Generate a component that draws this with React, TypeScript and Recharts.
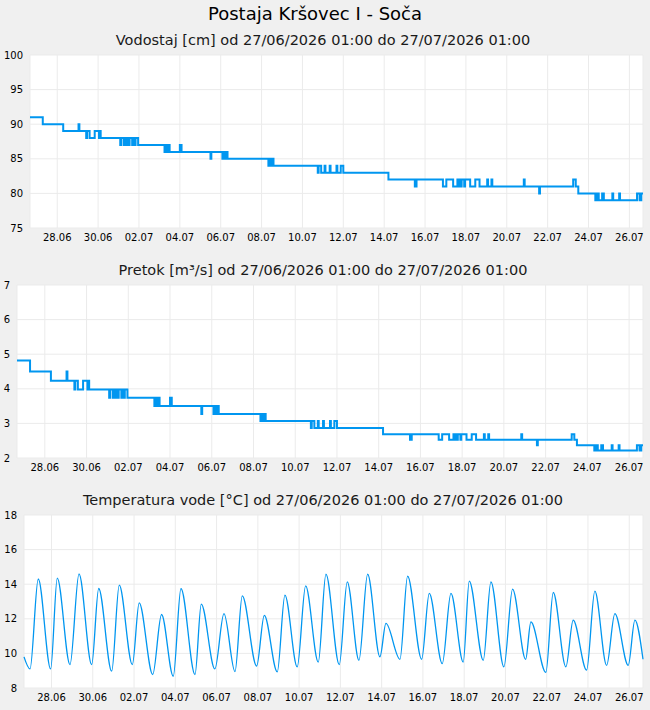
import React from 'react'
import { LineChart, Line, XAxis, YAxis, CartesianGrid } from 'recharts'

// ure od 27/06/2026 01:00
const dayTicks = [32, 80, 128, 176, 224, 272, 320, 368, 416, 464, 512, 560, 608, 656, 704]
const dayLabels = ['28.06', '30.06', '02.07', '04.07', '06.07', '08.07', '10.07', '12.07', '14.07', '16.07', '18.07', '20.07', '22.07', '24.07', '26.07']

// vodostaj [cm]: [ura, vrednost]
const vodostaj: [number, number][] = [
  [0, 91], [15, 90], [39, 89], [57, 90], [58, 89], [66, 88], [67, 89], [70, 88], [76, 89], [81, 88], [82, 89], [83, 88],
  [106, 87], [107, 88], [110, 87], [111, 88], [113, 87], [114, 88], [116, 87], [117, 88], [120, 87], [121, 88], [123, 87], [124, 88], [127, 87],
  [158, 86], [160, 87], [161, 86], [163, 87], [164, 86], [176, 87], [178, 86],
  [212, 85], [213, 86], [226, 85], [227, 86], [229, 85], [230, 86], [232, 85],
  [280, 84], [281, 85], [282, 84], [284, 85], [286, 84],
  [338, 83], [339, 84], [342, 83], [346, 84], [347, 83], [352, 84], [353, 83], [360, 84], [361, 83], [365, 84], [368, 83],
  [421, 82], [452, 81], [454, 82],
  [485, 81], [489, 82], [497, 81], [502, 82], [503, 81], [505, 82], [506, 81], [507, 82], [510, 81], [511, 82], [517, 81], [523, 82], [528, 81], [537, 82], [538, 81], [542, 82], [543, 81],
  [580, 82], [581, 81], [598, 80], [599, 81], [638, 82], [641, 81], [644, 80],
  [664, 79], [666, 80], [668, 79], [672, 80], [674, 79], [684, 80], [685, 79], [692, 80], [693, 79], [713, 80], [716, 79], [718, 80], [720, 80],
]

// pretok [m3/s] pri posameznem vodostaju
const ratingLevels = [79, 80, 81, 82, 83, 84, 85, 86, 87, 88, 89, 90, 91]
const ratingFlows = [2.22, 2.37, 2.53, 2.69, 2.87, 3.07, 3.27, 3.5, 3.74, 3.98, 4.23, 4.5, 4.82]

// temperatura vode [°C]: [ura, vrednost]
const temperatura: [number, number][] = [
  [0, 9.8], [7, 9.1], [16.6, 14.3], [31, 9.1], [38.7, 14.35], [53.5, 9.35], [64, 14.6], [78.7, 9.35], [86.9, 13.75],
  [102, 8.97], [110.8, 13.95], [126, 9.35], [134, 12.92], [149.7, 8.78], [160, 12.25], [173.6, 8.68], [182.6, 13.75],
  [198.9, 8.78], [206.2, 12.85], [222, 9.1], [232.6, 12.3], [245.4, 8.95], [253.9, 13.33], [270.6, 9.27], [279.5, 12.2],
  [294.6, 8.93], [303.5, 13.37], [317.8, 9.22], [327.6, 13.9], [342.3, 9.5], [351.2, 14.58], [366.7, 9.35], [376, 14.14],
  [389.6, 9.6], [399.7, 14.58], [414, 9.8], [421, 11.73], [437.3, 9.66], [446.2, 14.47], [462.5, 9.66], [471.4, 13.47],
  [486.5, 9.41], [496.6, 13.47], [510.9, 9.5], [517.9, 14.18], [534.2, 9.6], [543.1, 14.14], [558.2, 9.22], [568.3, 13.71],
  [583.5, 9.66], [589.6, 11.82], [607, 8.9], [615.6, 13.52], [630.3, 9.22], [638.8, 11.92], [654.4, 9.03], [664, 13.6],
  [677.7, 9.31], [687.3, 12.3], [702.8, 9.31], [710.6, 11.92], [720, 9.66],
]

const levelTicks = [75, 80, 85, 90, 95, 100]
const flowTicks = [2, 3, 4, 5, 6, 7]
const tempTicks = [8, 10, 12, 14, 16, 18]

const font = 'DejaVu Sans'
const lineColor = '#0096f0'

type PanelProps = {
  data: { h: number; v: number }[]
  top: number
  yWidth: number
  yTicks: number[]
  stroke: number
  curve: 'stepAfter' | 'monotone'
}

const Panel: React.FC<PanelProps> = ({ data, top, yWidth, yTicks, stroke, curve }) => (
  <div style={{ position: 'absolute', left: 0, top }}>
    <LineChart width={650} height={203} data={data} margin={{ top: 5, right: 7, left: 0, bottom: 0 }}>
      <CartesianGrid fill="#ffffff" stroke="#ebebeb" vertical horizontal />
      <XAxis
        dataKey="h"
        type="number"
        domain={[0, 720]}
        ticks={dayTicks}
        tickFormatter={(h) => dayLabels[dayTicks.indexOf(h)]}
        axisLine={false}
        tickLine={false}
        tickSize={0}
        tickMargin={6}
        height={25}
        interval={0}
        tick={{ fontSize: 10, fill: '#000', fontFamily: font }}
      />
      <YAxis
        domain={[yTicks[0], yTicks[yTicks.length - 1]]}
        ticks={yTicks}
        width={yWidth}
        axisLine={false}
        tickLine={false}
        tickSize={0}
        tickMargin={7}
        interval={0}
        tick={{ fontSize: 10, fill: '#000', fontFamily: font }}
      />
      <Line
        dataKey="v"
        type={curve}
        stroke={lineColor}
        strokeWidth={stroke}
        dot={false}
        isAnimationActive={false}
      />
    </LineChart>
  </div>
)

const subtitle: React.CSSProperties = {
  position: 'absolute',
  left: 0,
  width: 646,
  textAlign: 'center',
  fontSize: 14.5,
  lineHeight: '20px',
  fontFamily: font,
  color: '#1a1a1a',
}

export default function App() {
  const levelData = vodostaj.map(([h, v]) => ({ h, v }))
  const flowData = vodostaj.map(([h, v]) => ({ h, v: ratingFlows[ratingLevels.indexOf(v)] }))
  const tempData = temperatura.map(([h, v]) => ({ h, v }))

  return (
    <div style={{ position: 'absolute', left: 0, top: 0, width: 650, height: 710, background: '#f0f0f0', overflow: 'hidden' }}>
      <div style={{ position: 'absolute', left: 0, top: 3, width: 630, textAlign: 'center', fontSize: 18, lineHeight: '22px', fontFamily: font, color: '#000' }}>
        Postaja Kršovec I - Soča
      </div>
      <div style={{ ...subtitle, top: 30 }}>Vodostaj [cm] od 27/06/2026 01:00 do 27/07/2026 01:00</div>
      <Panel data={levelData} top={50} yWidth={30} yTicks={levelTicks} stroke={2} curve="stepAfter" />
      <div style={{ ...subtitle, top: 260 }}>Pretok [m³/s] od 27/06/2026 01:00 do 27/07/2026 01:00</div>
      <Panel data={flowData} top={280} yWidth={17} yTicks={flowTicks} stroke={2} curve="stepAfter" />
      <div style={{ ...subtitle, top: 490 }}>Temperatura vode [°C] od 27/06/2026 01:00 do 27/07/2026 01:00</div>
      <Panel data={tempData} top={510} yWidth={24} yTicks={tempTicks} stroke={1.3} curve="monotone" />
    </div>
  )
}
